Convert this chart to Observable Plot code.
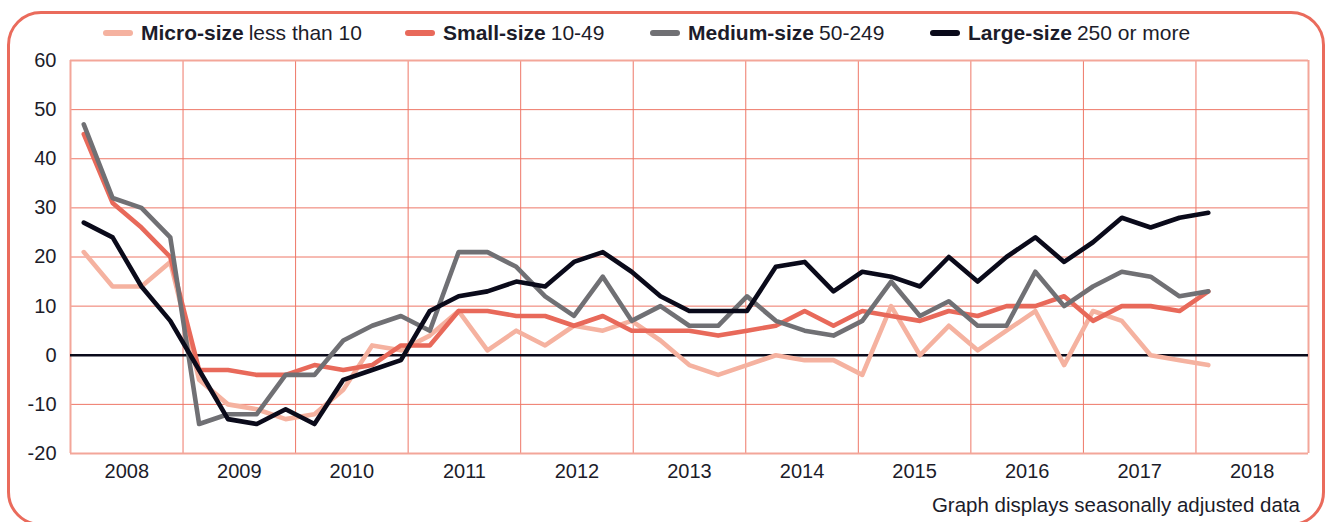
<!DOCTYPE html>
<html>
<head>
<meta charset="utf-8">
<script src="https://cdn.jsdelivr.net/npm/d3@7"></script>
<script src="https://cdn.jsdelivr.net/npm/@observablehq/plot@0.6"></script>
<style>
  html, body { margin: 0; padding: 0; background: #fff; overflow: hidden; }
  body { width: 1325px; height: 522px; position: relative; font-family: "Liberation Sans", Arial, sans-serif; color: #1c1c2a; }
  #frame { position: absolute; left: 6.5px; top: 10.5px; width: 1318px; height: 515px; box-sizing: border-box; border: 3px solid #ea6b5c; border-radius: 34px; }
  #chart { position: absolute; left: 0; top: 0; }
  .leg { position: absolute; top: 22px; height: 22px; line-height: 22px; font-size: 21px; white-space: nowrap; display: flex; align-items: center; }
  .sw { display: inline-block; width: 30px; height: 6px; border-radius: 3px; margin-right: 8px; }
  .leg b { font-weight: bold; margin-right: 5px; }
  #caption { position: absolute; right: 25px; top: 494px; font-size: 20.5px; line-height: 22px; white-space: nowrap; }
</style>
</head>
<body>
<div id="frame"></div>
<div id="chart"></div>
<div id="legend"></div>
<div id="caption">Graph displays seasonally adjusted data</div>
<script>
// ---- data (quarterly, 2008 Q1 – 2017 Q4) ----
const years = [2008, 2009, 2010, 2011, 2012, 2013, 2014, 2015, 2016, 2017, 2018];
const yTicks = [-20, -10, 0, 10, 20, 30, 40, 50, 60];
const seriesNames = ["Micro-size", "Small-size", "Medium-size", "Large-size"];
const seriesSubs = ["less than 10", "10-49", "50-249", "250 or more"];
const seriesColors = ["#f5b2a0", "#e8695a", "#707074", "#0a0a1a"];

const micro  = [21,14,14,19,-5,-10,-11,-13,-12,-7,2,1,4,9,1,5,2,6,5,7,3,-2,-4,-2,0,-1,-1,-4,10,0,6,1,5,9,-2,9,7,0,-1,-2];
const small  = [45,31,26,20,-3,-3,-4,-4,-2,-3,-2,2,2,9,9,8,8,6,8,5,5,5,4,5,6,9,6,9,8,7,9,8,10,10,12,7,10,10,9,13];
const medium = [47,32,30,24,-14,-12,-12,-4,-4,3,6,8,5,21,21,18,12,8,16,7,10,6,6,12,7,5,4,7,15,8,11,6,6,17,10,14,17,16,12,13];
const large  = [27,24,14,7,-3,-13,-14,-11,-14,-5,-3,-1,9,12,13,15,14,19,21,17,12,9,9,9,18,19,13,17,16,14,20,15,20,24,19,23,28,26,28,29];

const seriesValues = [micro, small, medium, large];

// position of each observation along the year axis (as laid out in the source chart)
const firstPos = 2008.118, step = 0.2562;

const data = [];
seriesValues.forEach((vals, s) => {
  vals.forEach((v, i) => data.push({series: seriesNames[s], x: firstPos + step * i, value: v}));
});

const yearBounds = years.concat([years[years.length - 1] + 1]);
const yearMids = years.map(y => y + 0.5);

const gridColor = "#ee7767";
const outerColor = "#f3a699";

const chart = Plot.plot({
  width: 1325,
  height: 522,
  marginTop: 60,
  marginBottom: 69,
  marginLeft: 70,
  marginRight: 17,
  style: {fontFamily: '"Liberation Sans", Arial, sans-serif', fontSize: "20px", color: "#1c1c2a", background: "transparent"},
  x: {type: "linear", domain: [2008, 2019]},
  y: {domain: [-20, 60]},
  marks: [
    Plot.ruleY(yTicks.filter(d => d > -20 && d < 60 && d !== 0), {stroke: gridColor, strokeWidth: 1}),
    Plot.ruleX(yearBounds.slice(1, -1), {stroke: gridColor, strokeWidth: 1}),
    Plot.ruleY([-20, 60], {stroke: outerColor, strokeWidth: 2}),
    Plot.ruleX([2008, 2019], {stroke: outerColor, strokeWidth: 2}),
    Plot.ruleY([0], {stroke: "#0a0a1a", strokeWidth: 2.5}),
    ...seriesNames.map((name, s) =>
      Plot.line(data.filter(d => d.series === name), {
        x: "x", y: "value", stroke: seriesColors[s], strokeWidth: 4.6,
        strokeLinejoin: "round", strokeLinecap: "round"
      })
    ),
    Plot.axisY({ticks: yTicks, tickFormat: d => String(d), tickSize: 0, tickPadding: 14, label: null, fontSize: 20}),
    Plot.axisX({ticks: yearMids, tickFormat: d => String(Math.floor(d)), tickSize: 0, tickPadding: 10, label: null, fontSize: 20})
  ]
});
document.getElementById("chart").appendChild(chart);

// legend
const legendLefts = [103, 405, 650, 930];
const legend = document.getElementById("legend");
seriesNames.forEach((name, s) => {
  const item = document.createElement("div");
  item.className = "leg";
  item.style.left = legendLefts[s] + "px";
  item.innerHTML = `<span class="sw" style="background:${seriesColors[s]}"></span><b>${name}</b><span>${seriesSubs[s]}</span>`;
  legend.appendChild(item);
});
</script>
</body>
</html>
